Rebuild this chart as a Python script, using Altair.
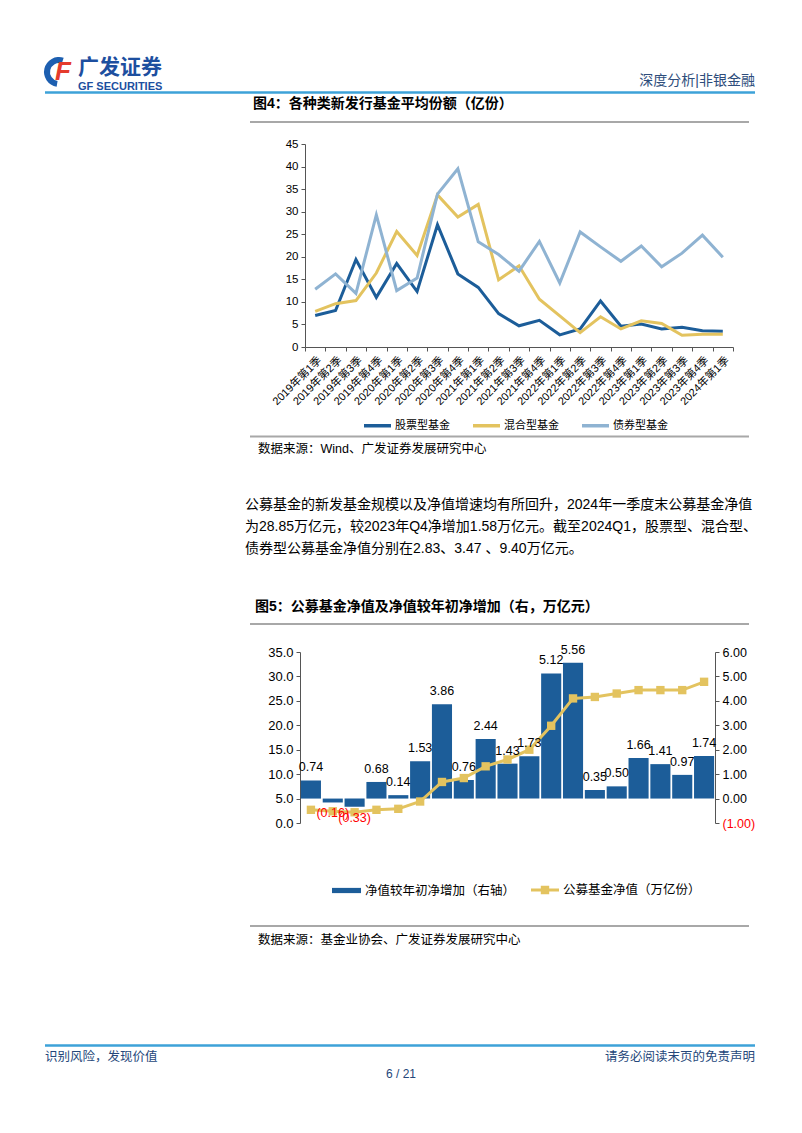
import altair as alt
import pandas as pd

SANS = "Liberation Sans, Noto Sans CJK SC"
NAVY = "#25477a"
BLUE = "#1c5d99"
YELLOW = "#e3c35f"
LBLUE = "#8fb3d2"
GRAY = "#a8a8a8"
HBLUE = "#3da2d8"

# ---------------- Chart 1 data ----------------
quarters = ["2019年第1季", "2019年第2季", "2019年第3季", "2019年第4季",
            "2020年第1季", "2020年第2季", "2020年第3季", "2020年第4季",
            "2021年第1季", "2021年第2季", "2021年第3季", "2021年第4季",
            "2022年第1季", "2022年第2季", "2022年第3季", "2022年第4季",
            "2023年第1季", "2023年第2季", "2023年第3季", "2023年第4季",
            "2024年第1季"]
series1 = ["股票型基金", "混合型基金", "债券型基金"]
stock = [7.0, 8.1, 19.4, 11.0, 18.5, 12.3, 27.1, 16.2, 13.2, 7.4, 4.7, 5.9,
         2.7, 4.0, 10.2, 4.6, 5.1, 4.0, 4.4, 3.6, 3.5]
mixed = [7.9, 9.6, 10.3, 16.4, 25.6, 20.3, 33.7, 28.8, 31.6, 14.9, 18.0, 10.6,
         6.9, 3.2, 6.7, 4.0, 5.8, 5.2, 2.6, 2.8, 2.8]
bond = [12.8, 16.2, 11.9, 29.3, 12.5, 15.3, 33.9, 39.5, 23.3, 20.5, 16.8, 23.4,
        14.2, 25.5, 22.2, 19.0, 22.4, 17.8, 20.8, 24.8, 19.9]

# ---------------- Chart 2 data ----------------
cats = ["2009", "2010", "2011", "2012", "2013", "2014", "2015", "2016", "2017",
        "2018", "2019", "2020", "2021", "2022", "2023Q1", "2023Q2", "2023Q3",
        "2023Q4", "2024Q1"]
inc = [0.74, -0.16, -0.33, 0.68, 0.14, 1.53, 3.86, 0.76, 2.44, 1.43, 1.73,
       5.12, 5.56, 0.35, 0.50, 1.66, 1.41, 0.97, 1.74]
nav = [2.7, 2.4, 2.2, 2.7, 2.9, 4.4, 8.4, 9.2, 11.6, 13.0, 15.0, 19.9, 25.5,
       25.8, 26.5, 27.2, 27.2, 27.2, 28.9]
BAR_NAME = "净值较年初净增加（右轴）"
LINE_NAME = "公募基金净值（万亿份）"

# ---------------- Text ----------------
TITLE4 = "图4：各种类新发行基金平均份额（亿份）"
TITLE5 = "图5：公募基金净值及净值较年初净增加（右，万亿元）"
SRC1 = "数据来源：Wind、广发证券发展研究中心"
SRC2 = "数据来源：基金业协会、广发证券发展研究中心"
PARA = ["公募基金的新发基金规模以及净值增速均有所回升，2024年一季度末公募基金净值",
        "为28.85万亿元，较2023年Q4净增加1.58万亿元。截至2024Q1，股票型、混合型、",
        "债券型公募基金净值分别在2.83、3.47 、9.40万亿元。"]

one = pd.DataFrame({"k": [0]})
COL1 = 292  # width of the left grid column (page x 8 -> 300)


def T(s, x, y, size=12, color="#000000", weight="normal", align="left",
      font=SANS, style="normal"):
    return alt.Chart(one).mark_text(
        align=align, baseline="middle", fontSize=size, font=font,
        fontWeight=weight, color=color, fontStyle=style
    ).encode(x=alt.value(x), y=alt.value(y), text=alt.value(s))


def R(x1, x2, y, color, w):
    return alt.Chart(one).mark_rule(color=color, strokeWidth=w).encode(
        x=alt.value(x1), x2=alt.value(x2), y=alt.value(y))


def spacer(w, h):
    return alt.Chart(one).mark_point(opacity=0, size=1).encode(
        x=alt.value(5), y=alt.value(5)).properties(width=w, height=h)


# ---------------- Header ----------------
header = alt.layer(
    alt.Chart(one).mark_arc(radius=15, radius2=9, theta=3.3, theta2=6.6,
                            color="#1d5fb0").encode(x=alt.value(51), y=alt.value(64)),
    T("F", 55, 64, 26, "#e53b2c", "bold", "center", style="italic"),
    T("广发证券", 70, 60, 21, "#1d4f9f", "bold"),
    T("GF SECURITIES", 70, 78.5, 11, "#1d4f9f", "bold", font="Liberation Sans"),
    T("深度分析|非银金融", 747, 73, 14, "#2e4d7b", align="right"),
    R(37, 747, 84.5, HBLUE, 2.5),
    T(TITLE4, 245, 95.5, 14, "#000000", "bold"),
    R(242, 741, 114, GRAY, 2),
).properties(width=COL1, height=136)

# ---------------- Chart 1 ----------------
df1 = pd.DataFrame({
    "q": quarters * 3,
    "s": [series1[0]] * len(stock) + [series1[1]] * len(mixed) + [series1[2]] * len(bond),
    "v": stock + mixed + bond,
})

chart1 = alt.Chart(df1).mark_line(strokeWidth=3).encode(
    x=alt.X("q:N", sort=quarters,
            scale=alt.Scale(type="band", paddingInner=0, paddingOuter=0, range=[5, 433]),
            axis=alt.Axis(title=None, labelAngle=-45, labelAlign="right",
                          labelBaseline="top", labelFontSize=11, labelPadding=3,
                          tickSize=4, tickBand="extent", domainColor="#555555",
                          tickColor="#555555", labelColor="#000000", labelFont=SANS)),
    y=alt.Y("v:Q", scale=alt.Scale(domain=[0, 45], nice=False),
            axis=alt.Axis(title=None, values=[0, 5, 10, 15, 20, 25, 30, 35, 40, 45],
                          grid=False, tickSize=4, labelFontSize=11.5, labelPadding=3,
                          offset=-5, domainColor="#555555", tickColor="#555555",
                          labelColor="#000000", labelFont=SANS)),
    stroke=alt.Stroke("s:N", sort=series1,
                      scale=alt.Scale(domain=series1, range=[BLUE, YELLOW, LBLUE]),
                      legend=alt.Legend(title=None, orient="none", legendX=354, legendY=402,
                                        direction="horizontal", symbolType="stroke",
                                        symbolSize=729, symbolStrokeWidth=3.5,
                                        labelFont=SANS, labelFontSize=11, labelOffset=2,
                                        columnPadding=16, labelColor="#000000")),
).properties(width=433, height=203)

# ---------------- Middle text ----------------
mid = alt.layer(
    R(242, 741, 89.5, GRAY, 2),
    T(SRC1, 250, 102, 12.5),
    T(PARA[0], 237, 158, 14),
    T(PARA[1], 237, 180, 14),
    T(PARA[2], 237, 202, 14),
    T(TITLE5, 247, 260, 14, weight="bold"),
    R(242, 741, 277, GRAY, 2),
).properties(width=COL1, height=305)

# ---------------- Chart 2 ----------------
df2 = pd.DataFrame({"cat": cats, "inc": inc, "nav": nav})
base2 = alt.Chart(df2)
xscale2 = alt.Scale(type="band", paddingInner=0.08, paddingOuter=0.04)
x2 = alt.X("cat:N", sort=cats, scale=xscale2,
           axis=alt.Axis(title=None, labelAngle=-45, labelAlign="right",
                         labelBaseline="top", labelFontSize=12.5, labelPadding=6,
                         tickSize=4, tickBand="extent", domainColor="#555555",
                         tickColor="#555555", labelColor="#000000", labelFont=SANS))
x2n = alt.X("cat:N", sort=cats, scale=xscale2, axis=None)
yr = alt.Scale(domain=[-1, 6], nice=False)
yl = alt.Scale(domain=[0, 35], nice=False)
LABEL_EXPR = ("datum.value < 0 ? '(' + format(-datum.value, '.2f') + ')' : "
              "format(datum.value, '.2f')")
BAR_LAB = ("datum.inc < 0 ? '(' + format(-datum.inc, '.2f') + ')' : "
           "format(datum.inc, '.2f')")

bars = base2.transform_calculate(bs=f"'{BAR_NAME}'").mark_bar(color=BLUE).encode(
    x=x2,
    y=alt.Y("inc:Q", scale=yr,
            axis=alt.Axis(orient="right", title=None, values=[-1, 0, 1, 2, 3, 4, 5, 6],
                          labelExpr=LABEL_EXPR,
                          labelColor={"condition": {"test": "datum.value < 0", "value": "#ff0000"},
                                      "value": "#000000"},
                          grid=False, tickSize=4, labelFontSize=12.5, labelPadding=3,
                          domainColor="#555555", tickColor="#555555", labelFont=SANS)),
    fill=alt.Fill("bs:N", scale=alt.Scale(domain=[BAR_NAME], range=[BLUE]),
                  legend=alt.Legend(title=None, orient="none", legendX=323, legendY=867,
                                    symbolType="M-1,-0.18H1V0.18H-1Z", symbolSize=841,
                                    labelFont=SANS, labelFontSize=12.5, labelOffset=3,
                                    labelColor="#000000")),
)

line = base2.mark_line(color=YELLOW, strokeWidth=3).encode(
    x=x2n,
    y=alt.Y("nav:Q", scale=yl,
            axis=alt.Axis(orient="left", title=None,
                          values=[0, 5, 10, 15, 20, 25, 30, 35], format=".1f",
                          grid=False, tickSize=4, labelFontSize=13, labelPadding=3,
                          domainColor="#555555", tickColor="#555555",
                          labelColor="#000000", labelFont=SANS)),
)

squares = base2.transform_calculate(ls=f"'{LINE_NAME}'").mark_square(
    size=70, filled=True, opacity=1).encode(
    x=x2n,
    y=alt.Y("nav:Q", scale=yl, axis=None),
    color=alt.Color("ls:N", scale=alt.Scale(domain=[LINE_NAME], range=[YELLOW]),
                    legend=alt.Legend(title=None, orient="none", legendX=522, legendY=867,
                                      symbolType="M-1,-0.1H1V0.1H-1Z M-0.3,-0.3H0.3V0.3H-0.3Z",
                                      symbolSize=784, labelFont=SANS, labelFontSize=12.5,
                                      labelOffset=3, labelColor="#000000")),
)

pos = base2.transform_filter("datum.inc >= 0").transform_calculate(lab=BAR_LAB).mark_text(
    dy=-13, fontSize=12.5, font=SANS, color="#000000", baseline="middle").encode(
    x=x2n, y=alt.Y("inc:Q", scale=yr, axis=None), text="lab:N")

neg = base2.transform_filter("datum.inc < 0").transform_calculate(lab=BAR_LAB).mark_text(
    dy=11, fontSize=12.5, font=SANS, color="#ff0000", baseline="middle").encode(
    x=x2n, y=alt.Y("inc:Q", scale=yr, axis=None), text="lab:N")

chart2 = alt.layer(bars, line, squares, pos, neg).resolve_scale(
    y="independent").properties(width=415, height=171)

# ---------------- Footer ----------------
foot = alt.layer(
    R(242, 741, 103, GRAY, 2),
    T(SRC2, 250, 117, 12.5),
    R(37, 747, 222.5, HBLUE, 2.5),
    T("识别风险，发现价值", 37, 234, 12.5, NAVY),
    T("请务必阅读末页的免责声明", 747, 234, 12.5, NAVY, align="right"),
    T("6 / 21", 393, 251, 12, NAVY, align="center"),
).properties(width=COL1, height=290)

chart = alt.concat(
    header, spacer(10, 136),
    spacer(COL1, 203), chart1,
    mid, spacer(10, 305),
    spacer(COL1, 171), chart2,
    foot, spacer(10, 10),
    columns=2, spacing=0, bounds="flush",
).properties(padding=0, background="white").configure_view(stroke=None)

chart.save("out.html", embed_options={"renderer": "svg", "actions": False})
